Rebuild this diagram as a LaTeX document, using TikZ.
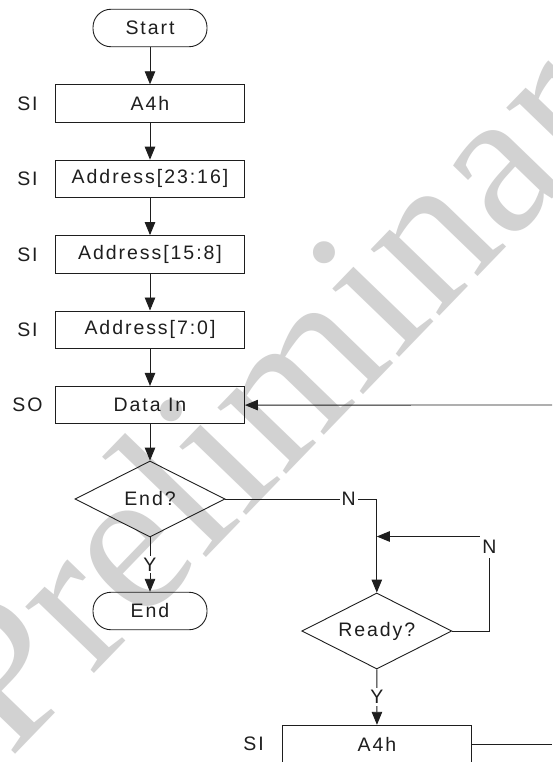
\documentclass[tikz,border=0pt]{standalone}
\usepackage{fontspec}
\setmainfont{Liberation Sans}[LetterSpace=10]
\newfontfamily\markfont{Liberation Serif}
\usetikzlibrary{
  arrows.meta,
  positioning,
  shapes.geometric
}
\definecolor{ink}{HTML}{1E1E1E}
\definecolor{paper}{HTML}{FFFFFF}
\definecolor{mark}{HTML}{D2D2D2}
\newcommand{\chartfont}{\fontsize{19.5}{21}\selectfont}
\tikzset{
  flow/.style={
    -{Triangle[length=13pt,width=10.5pt]},
    line width=0.9pt,
    draw=ink
  },
  link/.style={
    line width=0.9pt,
    draw=ink
  },
  cmdbox/.style={
    draw=ink,
    line width=0.9pt,
    minimum width=189pt,
    minimum height=37.5pt,
    inner sep=0pt
  },
  terminal/.style={
    draw=ink,
    line width=0.9pt,
    rounded corners=18pt,
    minimum width=114pt,
    minimum height=37.5pt,
    inner sep=0pt
  },
  decision/.style={
    diamond,
    aspect=2,
    draw=ink,
    line width=0.9pt,
    minimum width=150pt,
    minimum height=76pt,
    inner sep=0pt
  },
  pinlabel/.style={
    inner sep=0pt,
    text=ink
  },
  answer/.style={
    fill=paper,
    inner sep=2pt,
    text=ink
  }
}

\begin{document}
\begin{tikzpicture}[x=1pt, y=-1pt, font=\chartfont, text=ink]
  \useasboundingbox[fill=paper] (0,0) rectangle (552,762);
  \clip (0,0) rectangle (552,762);
  % watermark
  \node[
    font=\markfont\fontsize{208}{208}\selectfont,
    text=mark,
    rotate=46,
    inner sep=0pt
  ] (wm) at (316,372) {Preliminary};

  \node[terminal] (start) at (150,28) {Start};
  \foreach \k/\txt/\pin in {
    0/A4h/SI,
    1/{Address[23:16]}/SI,
    2/{Address[15:8]}/SI,
    3/{Address[7:0]}/SI,
    4/Data In/SO
  }{
    \node[cmdbox] (s\k) at (150,{103.5+75.4*\k}) {\txt};
    \node[pinlabel] (p\k) at (27.5,{103.5+75.4*\k}) {\pin};
  }
  \node[decision] (endq) at (150,499) {End?};
  \node[terminal] (stop) at (150,611) {End};
  \node[decision] (ready) at (376.8,631) {Ready?};
  \node[cmdbox] (again) at (377,744) {A4h};
  \node[pinlabel] (pagain) at (253.5,744) {SI};

  \coordinate (ret) at (552,405);
  \coordinate (out) at (552,744);
  \coordinate (split) at (376.8,499);
  \coordinate (merge) at (376.8,536.5);
  \coordinate (loop) at (489.4,536.5);

  \draw[flow] (start) -- (s0);
  \foreach \k in {0,...,3}{
    \pgfmathtruncatemacro{\next}{\k+1}
    \draw[flow] (s\k) -- (s\next);
  }
  \draw[flow] (s4) -- (endq);
  \draw[flow] (endq) -- node[answer] {Y} (stop);
  \draw[flow] (endq.east) -- node[answer, pos=0.814] {N} (split) -- (ready.north);
  \draw[flow] (ready.east) -| node[answer, pos=0.944, minimum height=22pt] {N} (loop) -- (merge);
  \draw[flow] (ready) -- node[answer] {Y} (again);
  \draw[flow] (ret) -- (s4.east);
  \draw[link] (again.east) -- (out);
\end{tikzpicture}
\end{document}
